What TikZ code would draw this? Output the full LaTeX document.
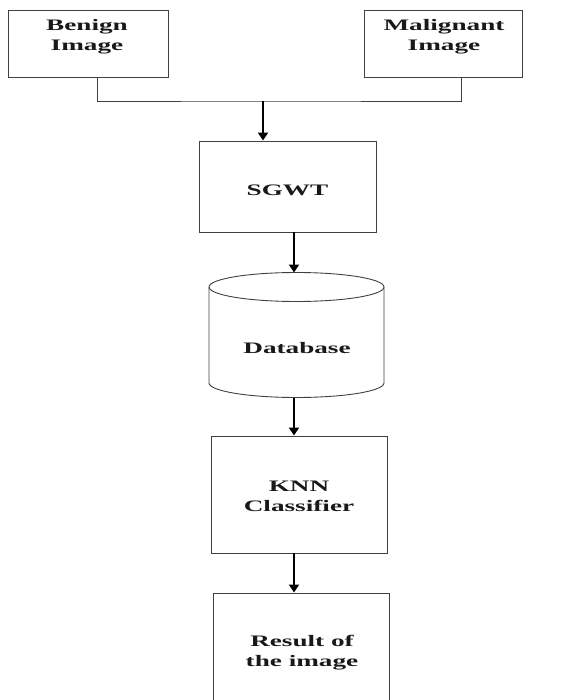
\documentclass[tikz,border=0pt]{standalone}
\usepackage{fontspec}
\setmainfont{Liberation Serif}[FakeStretch=1.7]
\usetikzlibrary{arrows.meta}
\begin{document}
\begin{tikzpicture}[x=1pt,y=-1pt,
 box/.style={draw=black!75, line width=0.9pt, inner sep=0pt},
 lbl/.style={font=\fontsize{16}{20}\selectfont\bfseries, align=center, inner sep=0pt, text=black!90},
 link/.style={draw=black!75, line width=0.9pt},
 arr/.style={line width=1.8pt, -{Triangle[length=8pt,width=10pt]}}]
\useasboundingbox (0,0) rectangle (576,700);
\clip (0,0) rectangle (576,700);
% boxes
\node[box, minimum width=160pt, minimum height=67pt] (benign) at (88,43.5) {};
\node[box, minimum width=158pt, minimum height=67pt] (malig) at (443,43.5) {};
\node[box, minimum width=177pt, minimum height=91pt] (sgwt) at (287.5,186.5) {};
\node[box, minimum width=176pt, minimum height=117pt] (knn) at (299,494.5) {};
\node[box, minimum width=176pt, minimum height=117pt] (res) at (301,651.5) {};
% labels
\node[lbl] (tbenign) at (87,36.5) {Benign\\Image};
\node[lbl] (tmalig) at (444,36.5) {Malignant\\Image};
\node[lbl] (tsgwt) at (287.5,190) {SGWT};
\node[lbl] (tknn) at (299,496) {KNN\\Classifier};
\node[lbl] (tres) at (302,653) {Result of\\the image};
% cylinder
\draw[link] (296.5,287) ellipse [x radius=87.5, y radius=14.5];
\draw[link] (209,287) -- (209,383) arc[start angle=180, end angle=0, x radius=87.5, y radius=14.5] -- (384,287);
\node[lbl] (db) at (297,348) {Database};
\coordinate (dbtop) at (296.5,272.5);
\coordinate (dbbot) at (296.5,397.5);
% connectors
\coordinate (bl) at (97,0);
\coordinate (ml) at (461,0);
\coordinate (j) at (263,101);
\coordinate (ax) at (294,0);
\draw[link] (benign.south -| bl) |- (j) -| (malig.south -| ml);
\draw[arr] (j) -- (j |- sgwt.north);
\draw[arr] (sgwt.south -| ax) -- (dbtop -| ax);
\draw[arr] (dbbot -| ax) -- (knn.north -| ax);
\draw[arr] (knn.south -| ax) -- (res.north -| ax);
\end{tikzpicture}
\end{document}
